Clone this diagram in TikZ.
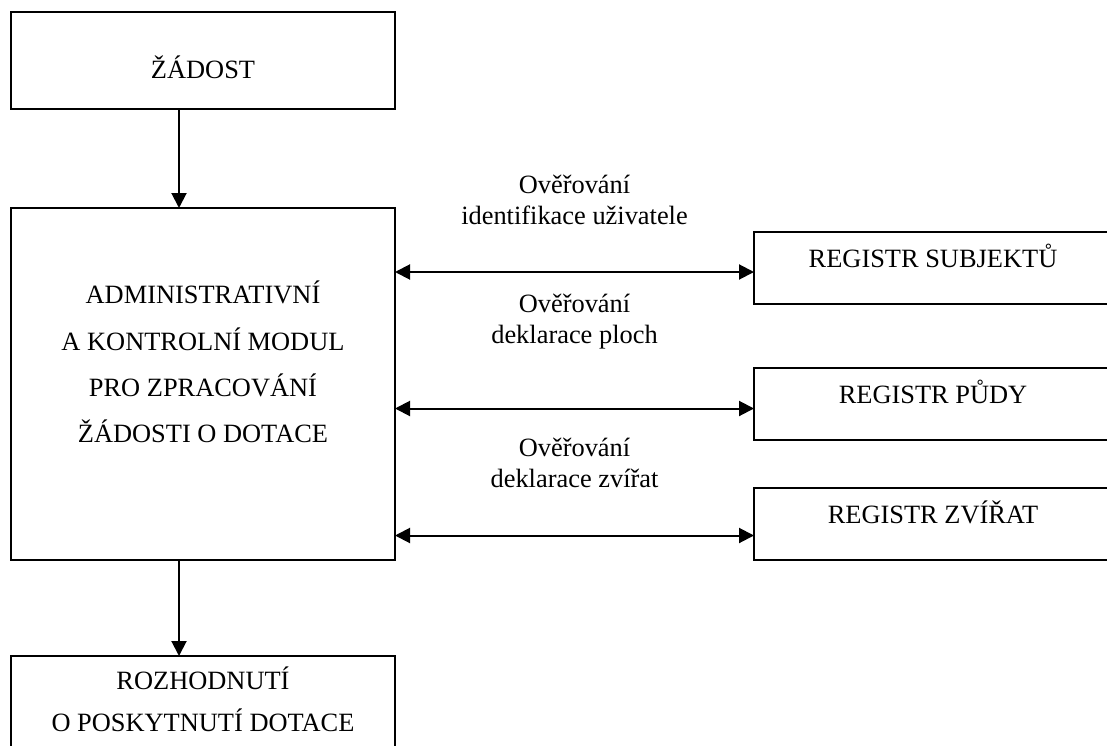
\documentclass[tikz,border=0pt]{standalone}
\usepackage{fontspec}
\setmainfont{Liberation Serif}
\usetikzlibrary{arrows.meta, positioning}

\begin{document}
\begin{tikzpicture}[x=1pt, y=-1pt,
  box/.style={draw, line width=2pt, inner sep=0pt, outer sep=0pt, minimum width=384pt},
  regbox/.style={draw, line width=2pt, inner sep=0pt, outer sep=0pt, minimum width=358pt, text height=36pt, text depth=36pt},
  boxtext/.style={align=center, inner sep=0pt, text depth=0pt},
  edgelabel/.style={align=center, inner sep=0pt, text depth=0pt, font=\fontsize{26.4}{31}\selectfont},
  every node/.style={font=\fontsize{26.4}{31}\selectfont},
  >={Triangle[length=15pt, width=15pt]}]
	\useasboundingbox (0,0) rectangle (1107,746);

	% Main column
	\node[box, text height=67pt, text depth=30pt] (zadost) at (203,60.5) {ŽÁDOST};
	\node[box, minimum height=352pt, below=99pt of zadost] (modul) {};
	\node[box, minimum height=92pt, below=96pt of modul] (rozh) {};
	\node[boxtext, font=\fontsize{26.4}{46.3}\selectfont, above=117pt of modul.south] (modultxt) {ADMINISTRATIVNÍ\\A KONTROLNÍ MODUL\\PRO ZPRACOVÁNÍ\\ŽÁDOSTI O DOTACE};
	\node[boxtext, font=\fontsize{26.4}{42}\selectfont, anchor=south] (rozhtxt) at ([yshift=-76pt]rozh.north) {ROZHODNUTÍ\\O POSKYTNUTÍ DOTACE};

	% Registers
	\node[regbox] (subj) at (933,267.5) {REGISTR SUBJEKTŮ};
	\node[regbox, below=64pt of subj] (puda) {REGISTR PŮDY};
	\node[regbox, below=48pt of puda] (zvirata) {REGISTR ZVÍŘAT};

	\coordinate (subjin) at ([yshift=-4.5pt]subj.west);
	\coordinate (pudain) at ([yshift=-5pt]puda.west);
	\coordinate (zvirin) at ([yshift=-12pt]zvirata.west);

	% Flow
	\draw[->, line width=2pt] ([xshift=-24pt]zadost.south) -- ([xshift=-24pt]modul.north);
	\draw[->, line width=2pt] ([xshift=-24pt]modul.south) -- ([xshift=-24pt]rozh.north);

	% Checks against registers
	\draw[<->, line width=2pt] (modul.east |- subjin) -- (subjin) node[edgelabel, midway, above=47pt] (lblsubj) {Ověřování\\identifikace uživatele};
	\draw[<->, line width=2pt] (modul.east |- pudain) -- (pudain) node[edgelabel, midway, above=64pt] (lblpuda) {Ověřování\\deklarace ploch};
	\draw[<->, line width=2pt] (modul.east |- zvirin) -- (zvirin) node[edgelabel, midway, above=47pt] (lblzvir) {Ověřování\\deklarace zvířat};
\end{tikzpicture}
\end{document}
